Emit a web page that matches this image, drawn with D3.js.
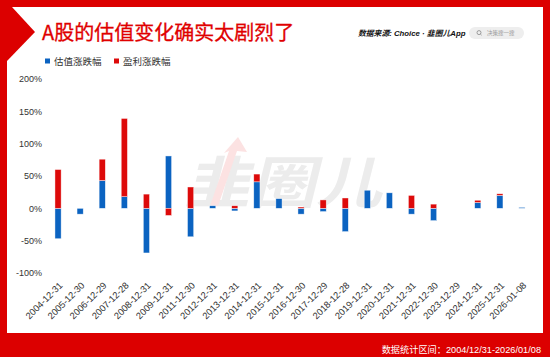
<!DOCTYPE html>
<html><head><meta charset="utf-8">
<script src="https://cdn.jsdelivr.net/npm/d3@7"></script>
<style>
html,body{margin:0;padding:0;background:#fff;}
svg{display:block;font-family:"Noto Sans CJK SC","Noto Sans",sans-serif;}
</style></head>
<body>
<svg id="chart" width="550" height="357"></svg>
<script>
// ---- data ----
const dates = ["2004-12-31","2005-12-30","2006-12-29","2007-12-28","2008-12-31","2009-12-31","2011-12-30","2012-12-31","2013-12-31","2014-12-31","2015-12-31","2016-12-30","2017-12-29","2018-12-28","2019-12-31","2020-12-31","2021-12-31","2022-12-30","2023-12-29","2024-12-31","2025-12-31","2026-01-08"];
const valuationChange = [-47, -9, 43, 18, -69, 81, -44, 4, -4, 41, 15, -9, -5, -36, 28, 24, -9, -19, 0, 9, 20, 1.5];
const earningsChange  = [60, 0, 33, 121, 22, -11, 33, 0, 4, 12, 0, 2, 13, 16, 0, 0, 20, 6.5, 0, 3.5, 2.5, 0];
const seriesNames = ["估值涨跌幅", "盈利涨跌幅"];
const yTicks = [-100, -50, 0, 50, 100, 150, 200];
const titleText = "A股的估值变化确实太剧烈了";
const sourceText = "数据来源: Choice · 韭圈儿App";
const footerText = "数据统计区间：2004/12/31-2026/01/08";

const RED = "#dd0a0a", BLUE = "#0b63c1", FRAME = "#dc0000";
const LATIN = "'Liberation Sans','Noto Sans CJK SC',sans-serif";

const svg = d3.select("#chart");

// frame
svg.append("rect").attr("width",550).attr("height",357).attr("fill",FRAME);
svg.append("rect").attr("x",7).attr("y",7).attr("width",536).attr("height",326).attr("fill","#fff");
svg.append("polygon").attr("points","7,7 12,7 35,32 7,61").attr("fill",FRAME);

// title
svg.append("text").attr("x",42).attr("y",40).attr("fill","#e00000")
  .attr("font-size",20).attr("stroke","#e00000").attr("stroke-width",0.3).text(titleText);

// source
svg.append("text").attr("x",358).attr("y",35.5).attr("font-size",7.8)
  .attr("font-family",LATIN).attr("font-weight","bold").attr("font-style","italic")
  .attr("fill","#111").text(sourceText);

// search pill
svg.append("rect").attr("x",469).attr("y",27).attr("width",55).attr("height",12).attr("rx",6).attr("fill","#eeeeee");
svg.append("circle").attr("cx",479).attr("cy",32.6).attr("r",2).attr("fill","none").attr("stroke","#888").attr("stroke-width",0.8);
svg.append("line").attr("x1",480.4).attr("y1",34).attr("x2",481.6).attr("y2",35.2).attr("stroke","#888").attr("stroke-width",0.8);
svg.append("text").attr("x",487).attr("y",35).attr("font-size",5.5).attr("fill","#999").text("决策搜一搜");

// legend
const legend = svg.append("g");
[[45, BLUE, seriesNames[0]],[114, RED, seriesNames[1]]].forEach(([x,c,t])=>{
  legend.append("rect").attr("x",x).attr("y",58.5).attr("width",5).attr("height",5).attr("fill",c);
  legend.append("text").attr("x",x+9).attr("y",64.5).attr("font-size",9.5).attr("fill","#333").text(t);
});

// watermark
const wm = svg.append("g");
wm.append("text").attr("x",0).attr("y",0)
  .attr("transform","translate(184,203) skewX(-14)")
  .attr("font-size",56).attr("font-weight","bold").attr("fill","#ececec")
  .attr("textLength",198).attr("lengthAdjust","spacingAndGlyphs").text("韭圈儿");
wm.append("polygon").attr("points","238,137 247,152 237,151 218,206 210,206 229,151 224,153")
  .attr("fill","#fce2e2");

// scales
const x = d3.scaleBand().domain(dates).range([47,533]).paddingInner(0.72).paddingOuter(0.36);
const y = d3.scaleLinear().domain([-100,200]).range([273,79]);

// y axis
const yAxis = d3.axisLeft(y).tickValues(yTicks).tickFormat(d=>d+"%").tickSize(0).tickPadding(0);
const yg = svg.append("g").attr("transform","translate(42,0)").call(yAxis);
yg.select(".domain").remove();
yg.selectAll("text").attr("font-size",9).attr("fill","#333").attr("font-family",LATIN);

// x axis
const xAxis = d3.axisBottom(x).tickSize(0).tickPadding(0);
const xg = svg.append("g").attr("transform","translate(0,280)").call(xAxis);
xg.select(".domain").remove();
xg.selectAll("text").attr("font-size",9.3).attr("fill","#333")
  .attr("font-family",LATIN)
  .attr("text-anchor","end").attr("dy",null).attr("y",0)
  .attr("transform","translate(5,6) rotate(-45)");

// stacked bars
const table = dates.map((d,i)=>({date:d, val:valuationChange[i], earn:earningsChange[i]}));
const stack = d3.stack().keys(["val","earn"]).offset(d3.stackOffsetDiverging);
const layers = stack(table);
const colors = {val:BLUE, earn:RED};
svg.append("g").selectAll("g").data(layers).join("g")
  .attr("fill", d=>colors[d.key])
  .selectAll("rect").data(d=>d).join("rect")
  .attr("x", d=>x(d.data.date))
  .attr("width", x.bandwidth())
  .attr("y", d=>y(Math.max(d[0],d[1])))
  .attr("height", d=>Math.abs(y(d[0])-y(d[1])))
  .attr("stroke","#fff").attr("stroke-opacity",0.7).attr("stroke-width",0.6);

// footer
svg.append("text").attr("x",541).attr("y",352.5).attr("text-anchor","end")
  .attr("font-size",9.2).attr("font-family",LATIN).attr("fill","#fff").text(footerText);
</script>
</body></html>
